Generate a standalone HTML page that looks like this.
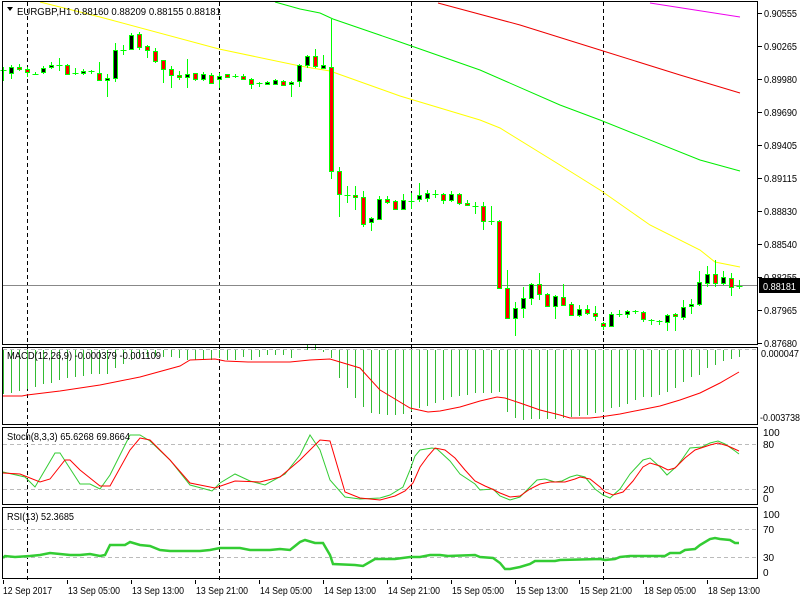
<!DOCTYPE html>
<html><head><meta charset="utf-8"><style>
html,body{margin:0;padding:0;background:#fff;}
svg{display:block;font-family:"Liberation Sans",sans-serif;font-size:10px;}
</style></head><body>
<svg id="s" width="800" height="600" xmlns="http://www.w3.org/2000/svg">
<rect width="800" height="600" fill="#fff"/>
<g id="grid"></g>
<g id="ma"></g>
<g id="cd"></g>
<g id="ind"></g>
<g fill="none" stroke="#000" stroke-width="1">
<rect x="2.5" y="1.5" width="755" height="343"/>
<rect x="2.5" y="347.5" width="755" height="77"/>
<rect x="2.5" y="427.5" width="755" height="77"/>
<rect x="2.5" y="507.5" width="755" height="71"/>
</g>
<g id="ax" fill="#000">
<text x="17" y="15" textLength="204" lengthAdjust="spacingAndGlyphs">EURGBP,H1  0.88160 0.88209 0.88155 0.88181</text>
<text x="7" y="359" textLength="154" lengthAdjust="spacingAndGlyphs">MACD(12,26,9) -0.000379 -0.001109</text>
<text x="7" y="440" textLength="123" lengthAdjust="spacingAndGlyphs">Stoch(8,3,3) 65.6268 69.8664</text>
<text x="7" y="520" textLength="67" lengthAdjust="spacingAndGlyphs">RSI(13) 52.3685</text>
</g>
<polygon points="7,7 13,7 10,11" fill="#000"/>
</svg>
<script>
var NS="http://www.w3.org/2000/svg";
function el(p,t,a,txt){var e=document.createElementNS(NS,t);for(var k in a)e.setAttribute(k,a[k]);if(txt!==undefined)e.textContent=txt;document.getElementById(p).appendChild(e);return e;}
function line(p,x1,y1,x2,y2,c,w,d){var a={x1:x1,y1:y1,x2:x2,y2:y2,stroke:c,'stroke-width':w||1};if(d)a['stroke-dasharray']=d;el(p,'line',a);}
function poly(p,pts,c,w){el(p,'polyline',{points:pts.map(function(q){return q.join(',')}).join(' '),fill:'none',stroke:c,'stroke-width':w||1});}
[27,219,411,603].forEach(function(x){line('grid',x+0.5,2,x+0.5,580,'#000',1,'4,3');});
line('grid',3,285.5,758,285.5,'#888',1);
[349.5,444.5,489.5,529.5,557.5].forEach(function(y){line('grid',3,y,757,y,'#bbb',1,'4,3');});
poly('ma',[[40,2],[100,17],[219,49],[300,66],[330,71],[400,96],[480,120],[500,128],[560,165],[600,190],[650,225],[700,250],[715,262],[730,265],[740,267]],'#ff0',1);
poly('ma',[[275,2],[300,9],[320,13],[333,19],[400,42],[480,70],[560,105],[600,120],[700,160],[740,171]],'#0e0',1);
poly('ma',[[438,3],[520,25],[600,50],[680,75],[740,93]],'#e00',1);
poly('ma',[[650,3],[740,17]],'#e0e',1);
var C=[[70,70,67,81],[73,67,65,79],[67,69,64,71],[69,72,67,77],[74,74,72,75],[72,68,66,74],[67,65,62,69],[65,65,58,71],[65,74,64,75],[73,73,68,75],[73,71,69,75],[71,71,70,74],[73,80,62,81],[80,78,74,97],[78,50,43,82],[50,50,45,55],[49,35,33,50],[34,47,32,50],[46,50,45,58],[51,61,48,63],[60,69,60,83],[69,75,66,88],[75,77,71,80],[77,74,59,88],[73,79,73,81],[79,74,72,81],[75,83,73,84],[79,76,73,88],[74,77,74,78],[76,76,74,78],[76,79,74,80],[79,84,78,89],[83,83,82,87],[84,82,81,85],[84,80,79,85],[81,85,80,86],[84,82,81,97],[81,65,64,87],[65,56,55,68],[56,66,49,68],[68,65,55,69],[67,171,19,179],[171,194,167,217],[195,195,186,203],[195,197,186,210],[197,224,191,227],[222,218,217,231],[219,199,196,220],[199,202,196,204],[201,209,200,210],[209,200,194,210],[201,201,193,209],[199,195,183,202],[198,193,190,202],[194,194,190,198],[194,200,193,204],[200,194,191,202],[194,203,193,205],[203,205,200,206],[206,206,202,214],[206,221,202,230],[221,221,206,225],[221,288,220,288],[288,318,270,318],[318,308,302,336],[308,298,287,318],[298,284,283,305],[284,294,273,300],[294,306,293,306],[306,296,295,319],[297,305,284,306],[304,315,302,316],[315,309,305,317],[309,313,305,315],[313,316,306,321],[323,326,322,330],[326,314,312,327],[314,314,310,317],[314,311,310,318],[311,311,310,314],[312,319,311,322],[320,320,319,325],[321,321,320,325],[322,315,314,331],[314,316,313,331],[317,307,300,320],[306,304,299,314],[304,282,271,306],[283,274,266,287],[274,283,260,287],[283,277,271,285],[278,287,273,296],[287,286,280,289]];
C.forEach(function(c,i){var x=3+8*i+0.5;var o=c[0],cl=c[1],h=c[2],l=c[3];
 line('cd',x,h,x,l,'#0f0',1);
 var top=Math.min(o,cl),bot=Math.max(o,cl);
 if(bot-top<2){line('cd',x-3,top+0.5,x+3,top+0.5,'#0f0',1);}
 else el('cd','rect',{x:x-2,y:top+0.5,width:4,height:bot-top,fill:cl>o?'#f00':'#000',stroke:'#0f0','stroke-width':1});
});
var H=[394,393,391,389,387,384,383,380,378,377,376,374,374,374,368,364,360,358,357,357,357,357,358,360,360,360,360,358,360,360,357,360,357,355,355,355,358,350,345,345,352,358,378,388,398,407,413,414,415,415,414,411,408,406,403,400,397,396,395,393,393,393,392,412,418,420,419,419,419,419,418,417,416,415,413,412,408,407,404,400,397,397,395,392,388,382,377,375,368,365,361,359,357];
H.forEach(function(y,i){var x=3+8*i+0.5;line('ind',x,350,x,y,'#3b3',1);});
poly('ind',[[3,396],[22,396],[27,395],[60,391],[100,385],[140,377],[180,366],[190,360],[215,359],[225,361],[248,362],[290,362],[310,360],[330,359],[340,362],[360,368],[380,390],[395,399],[410,408],[428,412],[440,411],[460,407],[480,401],[497,397],[505,398],[520,403],[540,410],[560,415],[570,418],[590,418],[600,417],[620,414],[640,410],[660,406],[680,400],[700,393],[720,383],[739,372]],'#f00',1);
poly('ind',[[3,472],[25,477],[35,487],[55,453],[60,453],[80,484],[90,484],[100,489],[110,475],[130,435],[140,435],[150,441],[170,460],[190,485],[205,489],[212,491],[220,483],[235,474],[250,481],[265,485],[285,474],[300,455],[310,435],[320,450],[330,480],[345,497],[360,499],[380,498],[390,495],[403,487],[410,470],[415,456],[420,450],[432,448],[437,449],[450,461],[460,474],[475,484],[480,490],[493,489],[500,496],[510,500],[520,497],[530,487],[537,480],[545,479],[555,482],[562,481],[570,477],[577,475],[585,477],[595,489],[603,495],[610,498],[620,489],[630,474],[643,460],[650,458],[660,467],[667,475],[677,466],[683,458],[690,448],[702,447],[710,443],[718,441],[725,444],[735,451],[739,454]],'#3c3',1);
poly('ind',[[3,473],[20,474],[40,482],[50,479],[65,460],[70,460],[80,470],[100,486],[110,486],[130,450],[140,438],[150,440],[170,460],[190,483],[215,488],[235,481],[260,482],[280,477],[300,460],[320,440],[330,441],[345,492],[360,498],[380,500],[395,496],[405,491],[413,483],[420,467],[428,456],[435,448],[445,450],[455,458],[465,470],[475,481],[485,486],[492,489],[500,493],[510,497],[520,496],[530,489],[540,484],[550,482],[565,482],[575,479],[580,477],[590,479],[600,487],[605,492],[613,495],[623,492],[633,481],[643,467],[650,463],[660,466],[668,470],[675,468],[685,458],[695,450],[710,445],[718,443],[728,446],[739,451]],'#f00',1);
poly('ind',[[3,558],[5,556],[15,557],[30,556],[40,555],[50,553],[60,554],[70,555],[80,555],[90,554],[100,556],[105,555],[110,545],[125,545],[130,542],[140,545],[150,546],[160,550],[170,551],[200,551],[210,550],[220,548],[240,548],[250,550],[270,550],[280,549],[290,550],[295,546],[300,542],[305,540],[315,543],[323,543],[330,555],[333,564],[355,565],[363,566],[375,559],[395,559],[410,557],[420,557],[430,555],[440,555],[448,556],[475,555],[480,557],[493,558],[500,563],[505,569],[510,569],[520,567],[530,564],[535,561],[555,561],[560,560],[600,559],[605,560],[615,559],[620,557],[630,556],[665,556],[670,553],[680,553],[685,550],[695,549],[700,545],[710,539],[715,538],[720,539],[730,540],[735,543],[739,543]],'#3c3',2.5);
function tx(x,y,s,w,fill){var a={x:x,y:y,textLength:w,lengthAdjust:'spacingAndGlyphs'};if(fill)a.fill=fill;el('ax','text',a,s);}
var P=[[0.90555,13],[0.90265,46],[0.89980,79],[0.89690,112],[0.89405,145],[0.89115,178],[0.88830,211],[0.88540,244],[0.88255,277],[0.87965,310],[0.87680,343]];
P.forEach(function(p){line('ax',758,p[1]+0.5,762,p[1]+0.5,'#000',1);tx(764,p[1]+4,p[0].toFixed(5),33);});
el('ax','rect',{x:759,y:278,width:41,height:15,fill:'#000'});
tx(763,290,'0.88181',33,'#fff');
tx(761,357,'0.000047',38);
tx(760,421,'-0.003738',40);
[[100,436],[80,448],[20,493],[0,502],[100,518],[70,533],[30,561],[0,576]].forEach(function(p){el('ax','text',{x:763,y:p[1]},String(p[0]));});
var T=['12 Sep 2017','13 Sep 05:00','13 Sep 13:00','13 Sep 21:00','14 Sep 05:00','14 Sep 13:00','14 Sep 21:00','15 Sep 05:00','15 Sep 13:00','15 Sep 21:00','18 Sep 05:00','18 Sep 13:00'];
T.forEach(function(t,i){var x=3+64*i;line('ax',x+0.5,580,x+0.5,584,'#000',1);tx(x+(i?1:0),594,t,i?52:49);});
</script>
</body></html>
